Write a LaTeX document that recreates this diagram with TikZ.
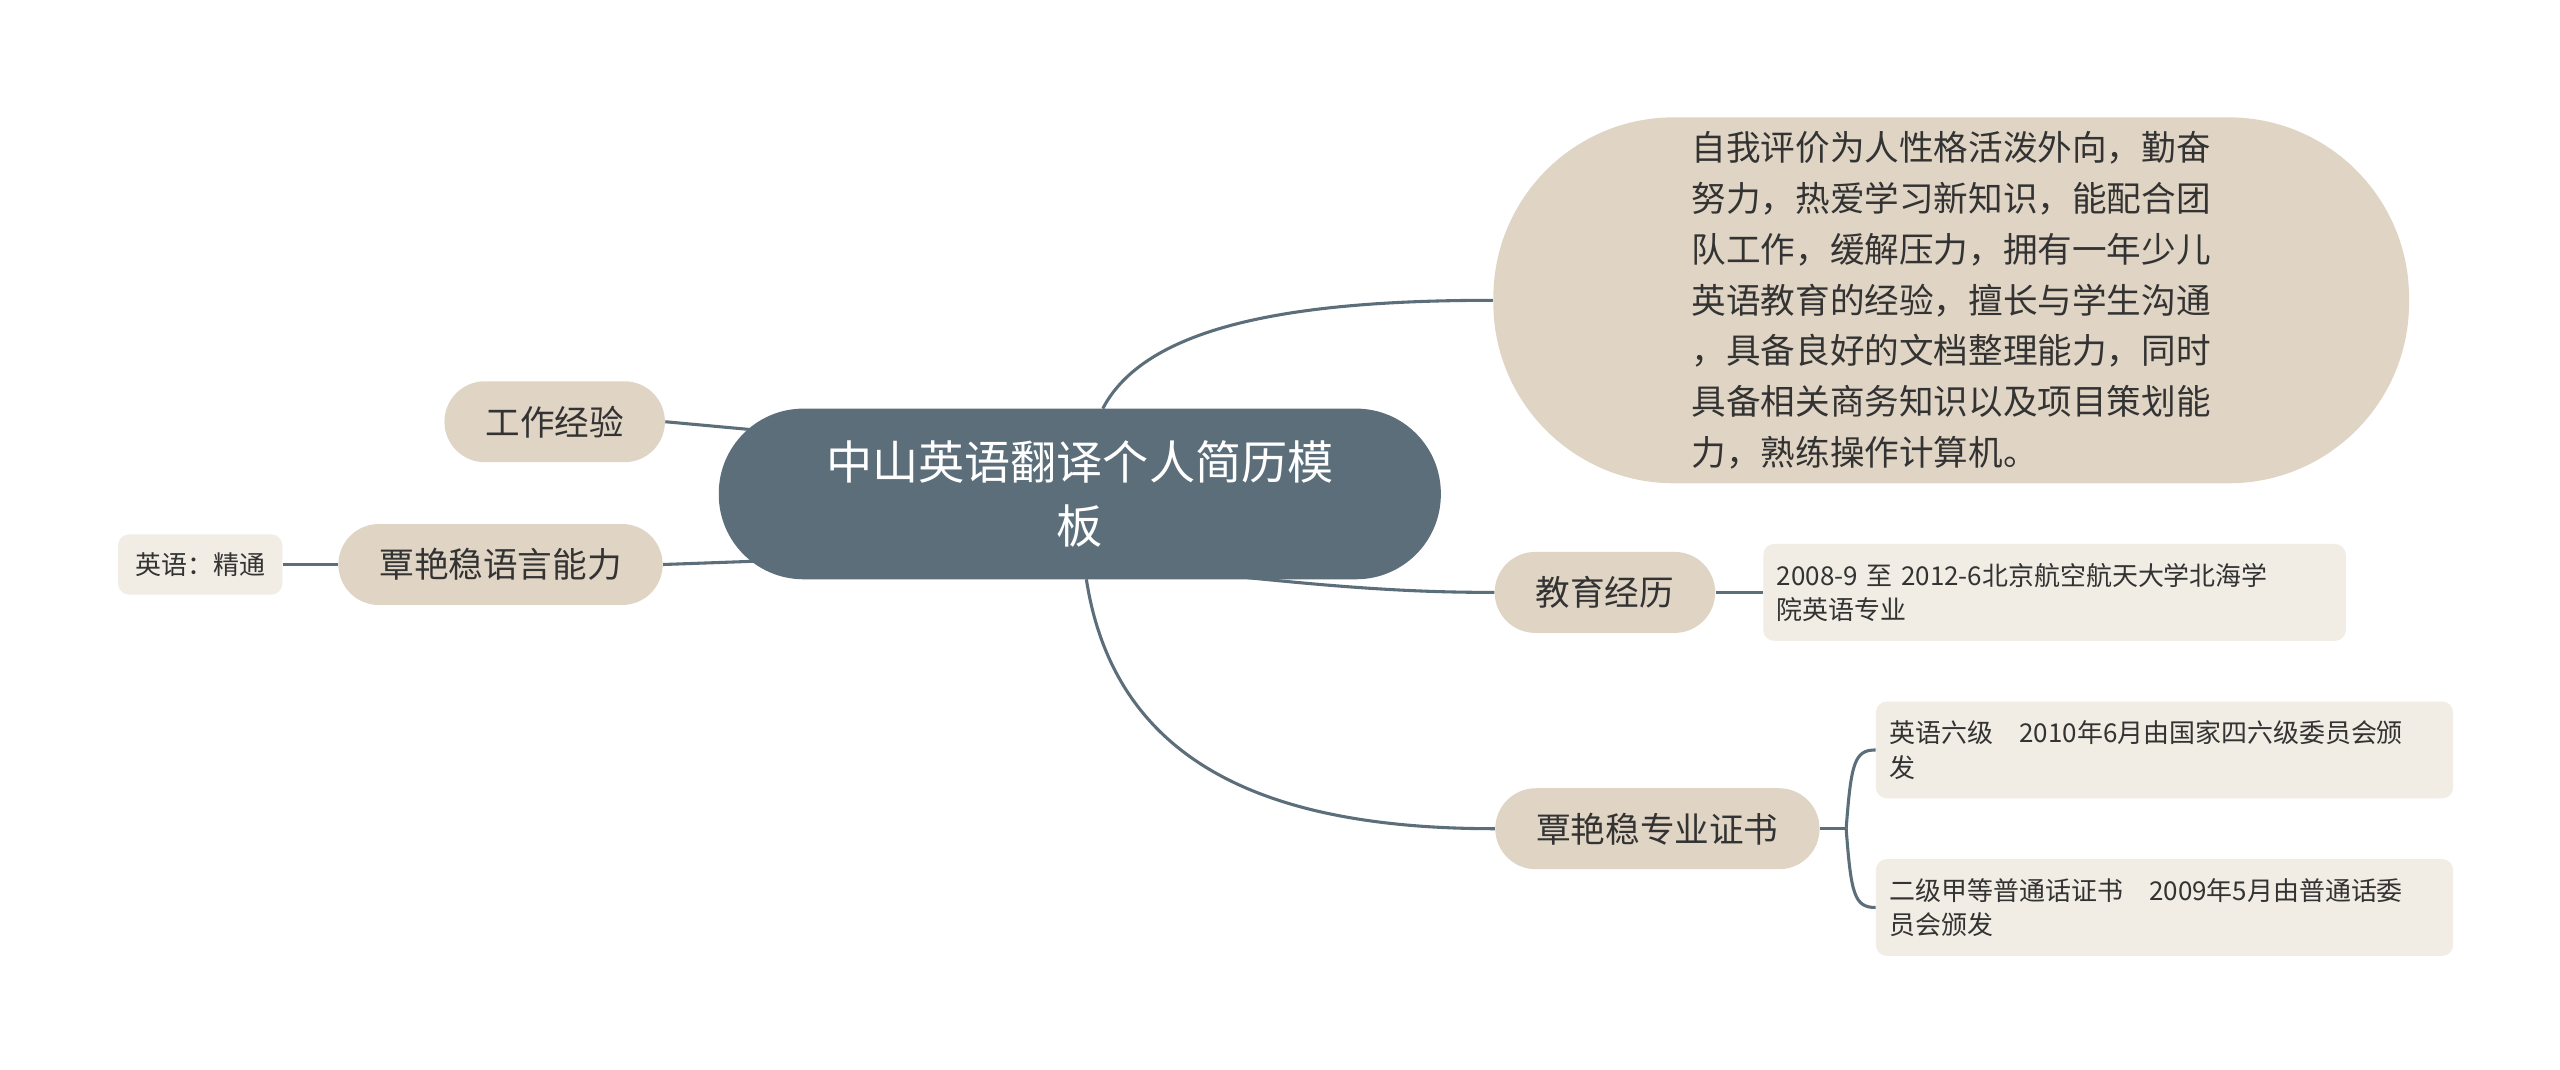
\documentclass[tikz,border=0pt]{standalone}
\usepackage{fontspec}
\setmainfont{Noto Sans CJK SC}
\usepackage{tikz}
\definecolor{slate}{HTML}{5B6E7A}
\definecolor{sand}{HTML}{E0D5C5}
\definecolor{paper}{HTML}{F1ECE4}
\definecolor{ink}{HTML}{333333}
\tikzset{
  root/.style={fill=slate, text=white, rounded corners=1.55cm, minimum width=13.2cm, minimum height=3.12cm, align=center, font=\fontsize{24}{33}\selectfont},
  topic/.style={fill=sand, text=ink, rounded corners=0.74cm, minimum height=1.48cm, inner xsep=0.75cm, font=\fontsize{18}{22}\selectfont},
  leaf/.style={fill=paper, text=ink, rounded corners=0.2cm, align=left, inner xsep=0.25cm, font=\fontsize{13.5}{18}\selectfont},
  link/.style={draw=slate, line width=1.6pt}
}
\begin{document}
\begin{tikzpicture}[x=0.03cm, y=-0.03cm]
  \fill[white] (0,0) rectangle (1560,652);
  \useasboundingbox (0,0) rectangle (1560,652);
  % centre
  \node[root] (center) at (658,301) {中山英语翻译个人简历模\\板};
  % right side
  \node[fill=sand, text=ink, rounded corners=3.3cm, minimum width=16.74cm, minimum height=6.69cm, align=left, font=\fontsize{18}{26.5}\selectfont] (self) at (1189,183)
    {自我评价为人性格活泼外向，勤奋\\努力，热爱学习新知识，能配合团\\队工作，缓解压力，拥有一年少儿\\英语教育的经验，擅长与学生沟通\\，具备良好的文档整理能力，同时\\具备相关商务知识以及项目策划能\\力，熟练操作计算机。};
  \node[topic] (edu) at (978,361) {教育经历};
  \node[leaf, text width=10.15cm, minimum height=1.77cm] (school) at (1252,361) {2008-9 至 2012-6北京航空航天大学北海学\\院英语专业};
  \node[topic] (cert) at (1010,505) {覃艳稳专业证书};
  \node[leaf, text width=10.05cm, minimum height=1.77cm] (cet) at (1319,457) {英语六级\quad 2010年6月由国家四六级委员会颁\\发};
  \node[leaf, text width=10.05cm, minimum height=1.77cm] (mandarin) at (1319,553) {二级甲等普通话证书\quad 2009年5月由普通话委\\员会颁发};
  % left side
  \node[topic] (work) at (338,257) {工作经验};
  \node[topic] (lang) at (305,344) {覃艳稳语言能力};
  \node[leaf, minimum width=3cm, minimum height=1.1cm] (eng) at (122,344) {英语：精通};
  % connectors
  \draw[link] (672,249) .. controls (700,195) and (800,183) .. (self.west);
  \draw[link] (760,352) .. controls (820,358) and (860,361) .. (edu.west);
  \draw[link] (662,353) .. controls (680,470) and (780,505) .. (cert.west);
  \draw[link] (work.east) -- (460,262);
  \draw[link] (lang.east) -- (460,342);
  \draw[link] (eng.east) -- (lang.west);
  \draw[link] (edu.east) -- (school.west);
  \draw[link] (cert.east) -- (1125,505);
  \draw[link] (1125,505) .. controls (1128,465) and (1130,457) .. (cet.west);
  \draw[link] (1125,505) .. controls (1128,545) and (1130,553) .. (mandarin.west);
\end{tikzpicture}
\end{document}
